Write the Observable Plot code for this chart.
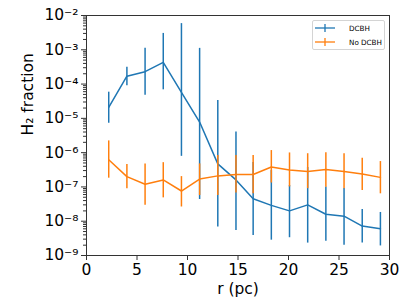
<!DOCTYPE html>
<html>
<head>
<meta charset="utf-8">
<script src="https://cdn.jsdelivr.net/npm/d3@7"></script>
<script src="https://cdn.jsdelivr.net/npm/@observablehq/plot@0.6"></script>
<style>
  body { margin: 0; background: #fff; }
  #wrap { position: relative; width: 409px; height: 307px; font-family: "DejaVu Sans", sans-serif; }
  #legend { position: absolute; left: 312px; top: 20px; width: 71px; height: 28px; background: #fff;
            border: 1px solid #d4d4d4; border-radius: 2px; font-size: 7.2px; color: #000; }
  .item { position: absolute; left: 2px; height: 10px; display: flex; align-items: center; }
  .item span { margin-left: 14px; }
</style>
</head>
<body>
<div id="wrap"></div>
<script>
const r = [2.2, 4.0, 5.8, 7.6, 9.4, 11.2, 13.0, 14.8, 16.5, 18.3, 20.1, 21.9, 23.7, 25.5, 27.3, 29.1];

const dcbh   = [2.1e-5, 1.7e-4, 2.3e-4, 4.3e-4, 5.7e-5, 7.8e-6, 4.7e-7, 1.6e-7, 4.5e-8, 2.9e-8, 2.0e-8, 3.0e-8, 1.6e-8, 1.4e-8, 7.2e-9, 6.0e-9];
const dcbhLo = [7.2e-6, 8.9e-5, 4.7e-5, 6.8e-5, 7.8e-7, 4.3e-8, 6.8e-9, 5.4e-9, 3.8e-9, 2.8e-9, 3.3e-9, 2.3e-9, 2.6e-9, 2.0e-9, 2.3e-9, 1.9e-9];
const dcbhHi = [5.8e-5, 3.1e-4, 1.1e-3, 3.0e-3, 5.8e-3, 1.1e-3, 3.3e-5, 4.0e-6, 5.2e-7, 3.0e-7, 1.1e-7, 3.7e-7, 1.0e-7, 9.0e-8, 2.2e-8, 1.8e-8];

const noDcbh   = [6.2e-7, 2.0e-7, 1.2e-7, 1.6e-7, 7.6e-8, 1.7e-7, 2.1e-7, 2.3e-7, 2.3e-7, 3.8e-7, 3.1e-7, 2.8e-7, 3.2e-7, 2.8e-7, 2.4e-7, 1.9e-7];
const noDcbhLo = [1.8e-7, 8.9e-8, 2.9e-8, 4.8e-8, 2.6e-8, 5.6e-8, 5.6e-8, 6.6e-8, 6.3e-8, 1.3e-7, 1.0e-7, 8.9e-8, 9.8e-8, 8.9e-8, 7.9e-8, 6.3e-8];
const noDcbhHi = [2.2e-6, 4.5e-7, 4.7e-7, 5.1e-7, 2.0e-7, 4.7e-7, 8.3e-7, 8.3e-7, 8.3e-7, 1.15e-6, 9.8e-7, 9.3e-7, 1.0e-6, 9.3e-7, 6.9e-7, 5.5e-7];

const seriesNames = ["DCBH", "No DCBH"];
const seriesColors = ["#1f77b4", "#ff7f0e"];
const xTicks = [0, 5, 10, 15, 20, 25, 30];
const yExponents = [-9, -8, -7, -6, -5, -4, -3, -2];
const xLabel = "r (pc)";
const yLabel = "H\u2082 fraction";

const sup = {"-": "\u207B", "0": "\u2070", "1": "\u00B9", "2": "\u00B2", "3": "\u00B3", "4": "\u2074",
             "5": "\u2075", "6": "\u2076", "7": "\u2077", "8": "\u2078", "9": "\u2079"};
const yMajor = yExponents.map(e => Math.pow(10, e));
const yMinor = [];
for (let e = -9; e < -2; e++) for (let m = 2; m <= 9; m++) yMinor.push(m * Math.pow(10, e));
const fmt = v => "10" + String(Math.round(Math.log10(v))).split("").map(c => sup[c]).join("");

const mk = (ys, lo, hi) => r.map((x, i) => ({x, y: ys[i], lo: lo[i], hi: hi[i]}));
const d1 = mk(dcbh, dcbhLo, dcbhHi);
const d2 = mk(noDcbh, noDcbhLo, noDcbhHi);

const chart = Plot.plot({
  width: 409, height: 307,
  marginLeft: 86, marginRight: 20, marginTop: 15, marginBottom: 52,
  style: {fontFamily: "DejaVu Sans", fontSize: "15.5px", color: "#000", background: "#fff"},
  x: {domain: [0, 30], label: null},
  y: {type: "log", domain: [1e-9, 1e-2], label: null},
  marks: [
    Plot.ruleX(d1, {x: "x", y1: "lo", y2: "hi", stroke: seriesColors[0], strokeWidth: 1.5}),
    Plot.line(d1, {x: "x", y: "y", stroke: seriesColors[0], strokeWidth: 1.5}),
    Plot.ruleX(d2, {x: "x", y1: "lo", y2: "hi", stroke: seriesColors[1], strokeWidth: 1.5}),
    Plot.line(d2, {x: "x", y: "y", stroke: seriesColors[1], strokeWidth: 1.5}),
    Plot.frame({stroke: "#333", strokeWidth: 1}),
    Plot.axisX({ticks: xTicks, tickSize: 5, tickPadding: 3, tickFormat: d => String(d), label: null, stroke: "#333"}),
    Plot.axisY({ticks: yMajor, tickSize: 5, tickPadding: 3, tickFormat: fmt, label: null, stroke: "#333"}),
    Plot.axisY({ticks: yMinor, tickSize: 3, tickFormat: () => "", label: null, stroke: "#333"}),
    Plot.text([xLabel], {frameAnchor: "bottom", dy: 38, lineAnchor: "bottom", fill: "#000"}),
    Plot.text([yLabel], {frameAnchor: "left", dx: -58, rotate: -90, fill: "#000"})
  ]
});
const wrap = document.getElementById("wrap");
wrap.appendChild(chart);

const legend = document.createElement("div");
legend.id = "legend";
seriesNames.forEach((name, i) => {
  const it = document.createElement("div");
  it.className = "item";
  it.style.top = (2 + i * 14) + "px";
  it.innerHTML = `<svg width="20" height="10" style="position:absolute;left:0;top:0">
      <line x1="0" x2="20" y1="5" y2="5" stroke="${seriesColors[i]}" stroke-width="1.3"/>
      <line x1="10" x2="10" y1="1" y2="9" stroke="${seriesColors[i]}" stroke-width="1.3"/></svg>
      <span style="margin-left:34px">${name}</span>`;
  legend.appendChild(it);
});
wrap.appendChild(legend);
</script>
</body>
</html>
